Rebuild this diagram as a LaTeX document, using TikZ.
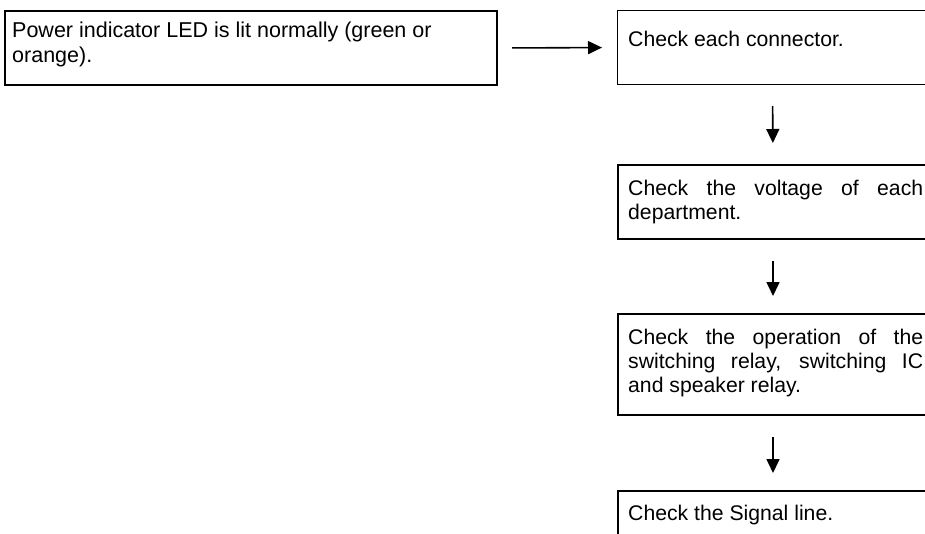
\documentclass[tikz,border=0pt]{standalone}
\usepackage{fontspec}
\setmainfont{Liberation Sans}
\usetikzlibrary{arrows.meta}
\begin{document}
\begin{tikzpicture}[x=1pt,y=-1pt,
  thickbox/.style={draw=black,line width=2pt,anchor=north west,inner sep=0pt,minimum width=#1},
  thinbox/.style={draw=black,line width=1pt,anchor=north west,inner sep=0pt,minimum width=#1},
  txt/.style={anchor=base west,inner sep=0pt,font=\fontsize{21.2}{24}\selectfont},
  arr/.style={line width=1.6pt,-{Triangle[width=13pt,length=14pt]}}]
\useasboundingbox (0,0) rectangle (925,533);
\clip (0,0) rectangle (925,533);
% boxes
\node[thickbox=492pt,minimum height=74pt] (b1) at (4,10) {};
\node[thinbox=310pt,minimum height=74pt] (b2) at (617,10) {};
\node[thickbox=310pt,minimum height=74pt] (b3) at (617,164) {};
\node[thickbox=310pt,minimum height=101pt] (b4) at (617,313) {};
\node[thickbox=310pt,minimum height=70pt] (b5) at (617,490) {};
% texts
\node[txt] (t1) at (12,37) {\parbox[t]{470pt}{\fontsize{21.5}{25}\selectfont\raggedright\hyphenpenalty=10000 Power indicator LED is lit normally (green or orange).}};
\node[txt] (t2) at (628,46) {\parbox[t]{294pt}{\raggedright Check each connector.}};
\node[txt] (t3) at (628,195) {\parbox[t]{295pt}{\hyphenpenalty=10000 Check the voltage of each department.}};
\node[txt] (t4) at (628,344) {\parbox[t]{295pt}{\hyphenpenalty=10000 Check the operation of the switching relay, switching IC and speaker relay.}};
\node[txt] (t5) at (628,520) {\parbox[t]{294pt}{\raggedright Check the Signal line.}};
% connectors
\draw[arr,shorten <=14pt,shorten >=15pt] (b1.east) -- (b2.west);
\draw[arr,shorten <=21pt,shorten >=21pt] (b2.south) -- (b3.north);
\draw[arr,shorten <=21pt,shorten >=17pt] (b3.south) -- (b4.north);
\draw[arr,shorten <=21pt,shorten >=17pt] (b4.south) -- (b5.north);
\end{tikzpicture}
\end{document}
